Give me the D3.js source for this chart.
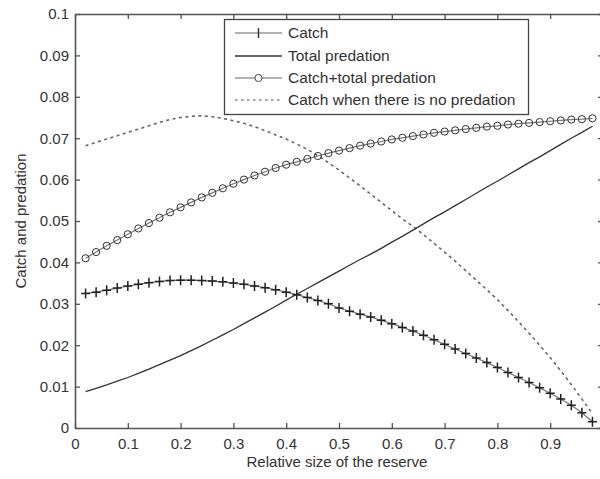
<!DOCTYPE html>
<html>
<head>
<meta charset="utf-8">
<script src="https://cdn.jsdelivr.net/npm/d3@7/dist/d3.min.js"></script>
<style>
  html, body { margin: 0; padding: 0; background: #fff; }
  svg { display: block; }
  text { font-family: "Liberation Sans", Arial, sans-serif; fill: #333; }
</style>
</head>
<body>
<div id="chart"></div>
<script>
const xValues = [0.02,0.04,0.06,0.08,0.10,0.12,0.14,0.16,0.18,0.20,
  0.22,0.24,0.26,0.28,0.30,0.32,0.34,0.36,0.38,0.40,
  0.42,0.44,0.46,0.48,0.50,0.52,0.54,0.56,0.58,0.60,
  0.62,0.64,0.66,0.68,0.70,0.72,0.74,0.76,0.78,0.80,
  0.82,0.84,0.86,0.88,0.90,0.92,0.94,0.96,0.98];

const catchValues = [0.0325,0.0328,0.0333,0.0338,0.0343,0.0347,0.0351,0.0354,0.0356,0.0357,
  0.0357,0.0356,0.0355,0.0353,0.0350,0.0347,0.0343,0.0339,0.0334,0.0328,
  0.0322,0.0315,0.0308,0.0300,0.0290,0.0282,0.0275,0.0268,0.0260,0.0252,
  0.0243,0.0234,0.0224,0.0213,0.0202,0.0191,0.0180,0.0169,0.0158,0.0146,
  0.0134,0.0122,0.0110,0.0097,0.0084,0.0070,0.0055,0.0037,0.0015];

const predationValues = [0.0088,0.0096,0.0104,0.0113,0.0122,0.0132,0.0142,0.0153,0.0164,0.0175,
  0.0187,0.0199,0.0212,0.0225,0.0238,0.0252,0.0266,0.0280,0.0294,0.0309,
  0.0323,0.0337,0.0351,0.0365,0.0379,0.0393,0.0407,0.0420,0.0434,0.0449,
  0.0463,0.0478,0.0493,0.0508,0.0522,0.0537,0.0552,0.0567,0.0582,0.0596,
  0.0611,0.0626,0.0641,0.0655,0.0670,0.0685,0.0700,0.0714,0.0729];

const sumValues = [0.0410,0.0425,0.0440,0.0454,0.0468,0.0482,0.0495,0.0508,0.0521,0.0533,
  0.0545,0.0557,0.0568,0.0579,0.0590,0.0600,0.0610,0.0619,0.0628,0.0636,
  0.0643,0.0650,0.0657,0.0664,0.0670,0.0676,0.0682,0.0687,0.0692,0.0697,
  0.0701,0.0705,0.0709,0.0713,0.0716,0.0719,0.0722,0.0725,0.0728,0.0730,
  0.0733,0.0735,0.0737,0.0739,0.0741,0.0743,0.0745,0.0746,0.0748];

const noPredationValues = [0.0682,0.0690,0.0698,0.0706,0.0714,0.0722,0.0730,0.0738,0.0745,0.0750,
  0.0753,0.0754,0.0752,0.0748,0.0742,0.0736,0.0728,0.0718,0.0708,0.0698,
  0.0686,0.0673,0.0658,0.0641,0.0623,0.0604,0.0585,0.0565,0.0545,0.0525,
  0.0505,0.0487,0.0467,0.0446,0.0425,0.0403,0.0380,0.0357,0.0334,0.0310,
  0.0284,0.0257,0.0229,0.0200,0.0170,0.0138,0.0105,0.0070,0.0035];

const xTicks = [0,0.1,0.2,0.3,0.4,0.5,0.6,0.7,0.8,0.9];
const xTickLabels = ["0","0.1","0.2","0.3","0.4","0.5","0.6","0.7","0.8","0.9"];
const yTicks = [0,0.01,0.02,0.03,0.04,0.05,0.06,0.07,0.08,0.09,0.1];
const yTickLabels = ["0","0.01","0.02","0.03","0.04","0.05","0.06","0.07","0.08","0.09","0.1"];
const legendLabels = ["Catch","Total predation","Catch+total predation","Catch when there is no predation"];
const xTitle = "Relative size of the reserve";
const yTitle = "Catch and predation";

(function () {
const W = 600, H = 479;
const mLeft = 75, mRight = 603, mTop = 14, mBottom = 428;

const svg = d3.select("#chart").append("svg").attr("width", W).attr("height", H);
svg.append("rect").attr("width", W).attr("height", H).attr("fill", "#fff");

const x = d3.scaleLinear().domain([0, 1]).range([mLeft, mRight]);
const y = d3.scaleLinear().domain([0, 0.1]).range([mBottom, mTop]);

const axisColor = "#555";
const tickLen = 5;

const gB = svg.append("g").attr("transform", `translate(0,${mBottom})`)
  .call(d3.axisBottom(x).tickValues(xTicks).tickSizeInner(-tickLen).tickSizeOuter(0).tickPadding(10)
    .tickFormat((d, i) => xTickLabels[i]));
const gT = svg.append("g").attr("transform", `translate(0,${mTop})`)
  .call(d3.axisTop(x).tickValues(xTicks).tickSizeInner(-tickLen).tickSizeOuter(0).tickFormat(""));
const gL = svg.append("g").attr("transform", `translate(${mLeft},0)`)
  .call(d3.axisLeft(y).tickValues(yTicks).tickSizeInner(-tickLen).tickSizeOuter(0).tickPadding(6)
    .tickFormat((d, i) => yTickLabels[i]));
const gR = svg.append("g").attr("transform", `translate(${mRight},0)`)
  .call(d3.axisRight(y).tickValues(yTicks).tickSizeInner(-tickLen).tickSizeOuter(0).tickFormat(""));

[gB, gT, gL, gR].forEach(g => {
  g.select(".domain").attr("stroke", axisColor).attr("stroke-width", 1.6);
  g.selectAll(".tick line").attr("stroke", axisColor).attr("stroke-width", 1.3);
  g.selectAll(".tick text").attr("font-size", 15).attr("fill", "#444")
    .attr("font-family", "'Liberation Sans', Arial, sans-serif");
});

svg.append("text").attr("x", (mLeft + mRight) / 2 - 2).attr("y", 467)
  .attr("text-anchor", "middle").attr("font-size", 15).attr("fill", "#444").text(xTitle);
svg.append("text").attr("transform", `translate(26,${(mTop + mBottom) / 2}) rotate(-90)`)
  .attr("text-anchor", "middle").attr("font-size", 15).attr("fill", "#444").text(yTitle);

const pts = vals => xValues.map((d, i) => [d, vals[i]]);
const line = d3.line().x(d => x(d[0])).y(d => y(d[1]));

svg.append("path").datum(pts(noPredationValues)).attr("d", line)
  .attr("fill", "none").attr("stroke", "#666").attr("stroke-width", 1.6).attr("stroke-dasharray", "3,3.5");

svg.append("path").datum(pts(predationValues)).attr("d", line)
  .attr("fill", "none").attr("stroke", "#333").attr("stroke-width", 1.3);

svg.append("path").datum(pts(sumValues)).attr("d", line)
  .attr("fill", "none").attr("stroke", "#777").attr("stroke-width", 1.2);
svg.append("g").selectAll("circle").data(pts(sumValues)).join("circle")
  .attr("cx", d => x(d[0])).attr("cy", d => y(d[1])).attr("r", 3.6)
  .attr("fill", "none").attr("stroke", "#333").attr("stroke-width", 1);

svg.append("path").datum(pts(catchValues)).attr("d", line)
  .attr("fill", "none").attr("stroke", "#777").attr("stroke-width", 1.2);
svg.append("g").selectAll("path").data(pts(catchValues)).join("path")
  .attr("d", d => `M${x(d[0]) - 4.5},${y(d[1])}H${x(d[0]) + 4.5}M${x(d[0])},${y(d[1]) - 5}V${y(d[1]) + 5}`)
  .attr("fill", "none").attr("stroke", "#222").attr("stroke-width", 1.5);

const lg = svg.append("g");
lg.append("rect").attr("x", 224.5).attr("y", 19.5).attr("width", 304).attr("height", 95)
  .attr("fill", "#fff").attr("stroke", "#444").attr("stroke-width", 1.3);
const rowY = [33, 56, 78, 100];
const lx0 = 235, lx1 = 282, tx = 288;
const lmid = (lx0 + lx1) / 2;
lg.append("line").attr("x1", lx0).attr("x2", lx1).attr("y1", rowY[0]).attr("y2", rowY[0]).attr("stroke", "#999").attr("stroke-width", 1.3);
lg.append("path").attr("d", `M${lmid},${rowY[0] - 5}V${rowY[0] + 5}`).attr("stroke", "#333").attr("stroke-width", 1.4);
lg.append("line").attr("x1", lx0).attr("x2", lx1).attr("y1", rowY[1]).attr("y2", rowY[1]).attr("stroke", "#333").attr("stroke-width", 1.4);
lg.append("line").attr("x1", lx0).attr("x2", lx1).attr("y1", rowY[2]).attr("y2", rowY[2]).attr("stroke", "#999").attr("stroke-width", 1.3);
lg.append("circle").attr("cx", lmid).attr("cy", rowY[2]).attr("r", 3.6).attr("fill", "#fff").attr("stroke", "#444");
lg.append("line").attr("x1", lx0).attr("x2", lx1).attr("y1", rowY[3]).attr("y2", rowY[3]).attr("stroke", "#888").attr("stroke-width", 1.5).attr("stroke-dasharray", "2.5,3.5");
legendLabels.forEach((t, i) => {
  lg.append("text").attr("x", tx).attr("y", rowY[i]).attr("dy", "0.35em")
    .attr("font-size", 15.5).attr("fill", "#333").text(t);
});
})();
</script>
</body>
</html>
